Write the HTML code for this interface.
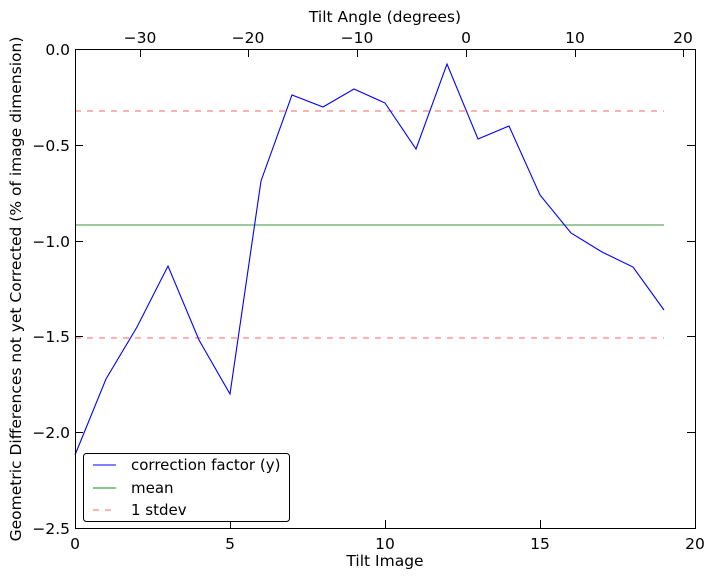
<!DOCTYPE html>
<html><head><meta charset="utf-8"><style>body{margin:0;background:#fff}svg{display:block}text{font-family:"DejaVu Sans","Liberation Sans",sans-serif;fill:#000}</style></head><body>
<svg width="714" height="579" viewBox="0 0 714 579" xmlns="http://www.w3.org/2000/svg">
<rect width="714" height="579" fill="#fff"/>
<g font-size="15.5">
<g stroke="#000" stroke-width="1">
<line x1="75.5" y1="528" x2="75.5" y2="520"/><line x1="230.5" y1="528" x2="230.5" y2="520"/><line x1="385.5" y1="528" x2="385.5" y2="520"/><line x1="540.5" y1="528" x2="540.5" y2="520"/><line x1="695.5" y1="528" x2="695.5" y2="520"/>
<line x1="75" y1="49.5" x2="83" y2="49.5"/><line x1="75" y1="145.5" x2="83" y2="145.5"/><line x1="75" y1="241.5" x2="83" y2="241.5"/><line x1="75" y1="336.5" x2="83" y2="336.5"/><line x1="75" y1="432.5" x2="83" y2="432.5"/><line x1="75" y1="528.5" x2="83" y2="528.5"/>
<line x1="695" y1="49.5" x2="687" y2="49.5"/><line x1="695" y1="145.5" x2="687" y2="145.5"/><line x1="695" y1="241.5" x2="687" y2="241.5"/><line x1="695" y1="336.5" x2="687" y2="336.5"/><line x1="695" y1="432.5" x2="687" y2="432.5"/><line x1="695" y1="528.5" x2="687" y2="528.5"/>
<line x1="140.5" y1="49" x2="140.5" y2="57"/><line x1="248.5" y1="49" x2="248.5" y2="57"/><line x1="357.5" y1="49" x2="357.5" y2="57"/><line x1="466.5" y1="49" x2="466.5" y2="57"/><line x1="575.5" y1="49" x2="575.5" y2="57"/><line x1="683.5" y1="49" x2="683.5" y2="57"/>
</g>
<g text-anchor="middle">
<text x="75" y="549">0</text><text x="230" y="549">5</text><text x="385" y="549">10</text><text x="540" y="549">15</text><text x="695" y="549">20</text>
<text x="140" y="43">−30</text><text x="248" y="43">−20</text><text x="357" y="43">−10</text><text x="466" y="43">0</text><text x="575" y="43">10</text><text x="683" y="43">20</text>
<text x="385" y="566">Tilt Image</text>
<text x="385" y="22">Tilt Angle (degrees)</text>
</g>
<g text-anchor="end">
<text x="70" y="55">0.0</text><text x="70" y="151">−0.5</text><text x="70" y="247">−1.0</text><text x="70" y="342">−1.5</text><text x="70" y="438">−2.0</text><text x="70" y="534">−2.5</text>
</g>
<text transform="translate(21,289) rotate(-90)" text-anchor="middle">Geometric Differences not yet Corrected (% of image dimension)</text>
</g>
<line x1="75" y1="111" x2="664" y2="111" stroke="#ff6666" stroke-dasharray="6,6"/>
<line x1="75" y1="338" x2="664" y2="338" stroke="#ff6666" stroke-dasharray="6,6"/>
<line x1="75" y1="225" x2="664" y2="225" stroke="#228b22" stroke-opacity="0.9"/>
<polyline fill="none" stroke="#0000ff" stroke-width="1.1" points="75,455 106,379 137,327 168,266 199,340 230,394 261,181 292,95 323,107 354,89 385,103 416,149 447,64 478,139 509,126 540,195 571,233 602,252 633,267 664,310"/>
<rect x="75.5" y="49.5" width="620" height="479" fill="none" stroke="#000"/>
<rect x="83.5" y="453.5" width="206" height="68" rx="3" fill="#fff" stroke="#000"/>
<line x1="93" y1="465" x2="116" y2="465" stroke="#0000ff"/>
<line x1="93" y1="488" x2="116" y2="488" stroke="#228b22"/>
<line x1="93" y1="510" x2="116" y2="510" stroke="#ff6666" stroke-dasharray="6,6"/>
<g font-size="15">
<text x="131" y="470">correction factor (y)</text>
<text x="131" y="493">mean</text>
<text x="131" y="515">1 stdev</text>
</g>
</svg>
</body></html>
